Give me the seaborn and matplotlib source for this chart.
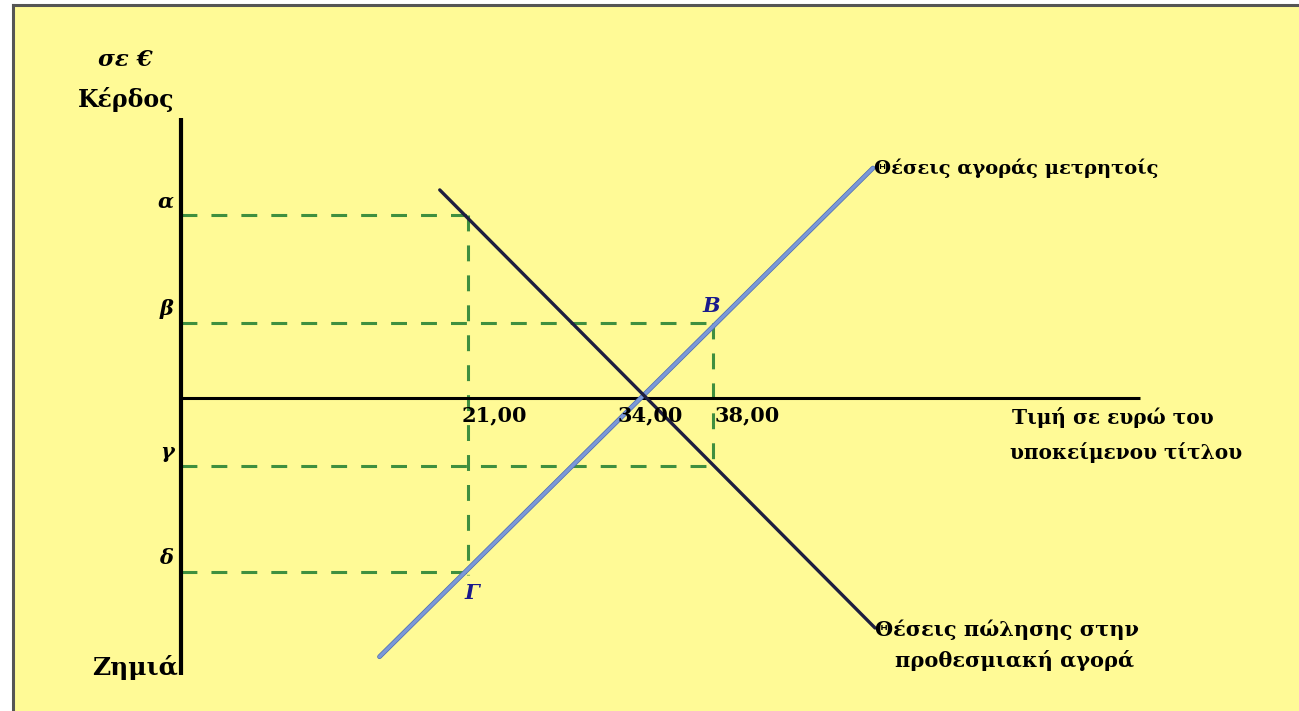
"""Profit/loss diagram: spot purchase vs forward sale (hedging)."""
import matplotlib
matplotlib.use("Agg")
import matplotlib.pyplot as plt
import matplotlib.patheffects as pe
import pandas as pd
import seaborn as sns

# --- data (diagram units: price on x, profit on y) ---
spot_price = [14.5, 50.55]
spot_profit = [-18.9, 16.8]
forward_price = [18.9, 50.7]
forward_profit = [15.2, -16.8]

profit_labels = ["α", "β", "γ", "δ"]
profit_levels = [13.37, 5.48, -4.97, -12.71]

price_labels = ["21,00", "34,00", "38,00"]
price_levels = [21.0, 34.0, 38.86]

# guide boxes: (price, upper profit, lower profit)
guide_price = [21.0, 38.86]
guide_top = [13.37, 5.48]
guide_bottom = [-12.71, -4.97]

axis_top, axis_bottom, axis_right = 20.45, -20.2, 70.05

# --- layout ---
PX = 13.69          # pixels per diagram unit
X0, Y0 = 181, 398   # pixel position of the origin
W, H = 1299, 711

sns.set_theme(style="white")
plt.rcParams["font.family"] = ["DejaVu Serif"]
plt.rcParams["font.weight"] = "bold"
plt.rcParams["text.color"] = "black"

fig = plt.figure(figsize=(W / 100, H / 100), dpi=100, facecolor="white")
ax = fig.add_axes([13 / W, 0, 1 - 13 / W, 1 - 5 / H])
ax.set_facecolor("#fffa96")
ax.set_xlim((13 - X0) / PX, (W - X0) / PX)
ax.set_ylim((Y0 - H) / PX, (Y0 - 5) / PX)
for side in ["right", "bottom"]:
    ax.spines[side].set_visible(False)
for side in ["top", "left"]:
    ax.spines[side].set_color("#555555")
    ax.spines[side].set_linewidth(2.2)
ax.set_xticks([])
ax.set_yticks([])

green = "#3f8f3f"
dash = dict(color=green, lw=2.2, dashes=(5.2, 4.6), solid_capstyle="butt")

# dashed guides
for gx, gt, gb in zip(guide_price, guide_top, guide_bottom):
    over = 0.7 if gx < 30 else 0.0
    ax.plot([0, gx + over], [gt, gt], **dash)
    ax.plot([0, gx + over], [gb, gb], **dash)
    ax.plot([gx, gx], [gt, gb - 0.2], **dash)

# axes
ax.plot([0, 0], [axis_top, axis_bottom], color="black", lw=3.0, solid_capstyle="butt")
ax.plot([0, axis_right], [0, 0], color="black", lw=2.2, solid_capstyle="butt")

# position lines
df = pd.DataFrame({
    "price": spot_price + forward_price,
    "profit": spot_profit + forward_profit,
    "position": ["spot"] * 2 + ["forward"] * 2,
})
sns.lineplot(data=df, x="price", y="profit", hue="position", sort=False,
             palette={"spot": "#7a98d8", "forward": "#1e1e40"},
             linewidth=2.4, legend=False, ax=ax)
ax.lines[-2].set_path_effects([pe.Stroke(linewidth=3.4, foreground="#4d6cb0"), pe.Normal()])

fs = 15
# y axis labels
ax.text(-4.09, 24.69, "σε €", fontsize=16.5, style="italic", ha="center", va="center")
ax.text(-4.02, 21.77, "Κέρδος", fontsize=17, ha="center", va="center")
ax.text(-0.22, -19.72, "Ζημιά", fontsize=18, ha="right", va="center")
for lab, lev in zip(profit_labels, profit_levels):
    ax.text(-0.55, lev + 1.0, lab, fontsize=fs, style="italic", ha="right", va="center")

# price labels
for lab, off in zip(price_labels, [-0.5, -2.1, 0.15]):
    ax.text(price_levels[price_labels.index(lab)] + off, -1.3, lab,
            fontsize=fs, ha="left", va="center")

ax.text(38.71, 6.72, "Β", fontsize=fs, style="italic", color="#1a1a8c", ha="center", va="center")
ax.text(21.26, -14.24, "Γ", fontsize=fs, style="italic", color="#1a1a8c", ha="center", va="center")

ax.text(spot_price[-1] + 0.1, spot_profit[-1], "Θέσεις αγοράς μετρητοίς",
        fontsize=14, ha="left", va="center")
ax.text(forward_price[-1], forward_profit[-1] - 0.15, "Θέσεις πώλησης στην",
        fontsize=fs, ha="left", va="center")
ax.text(52.15, -19.14, "προθεσμιακή αγορά", fontsize=fs, ha="left", va="center")
ax.text(60.7, -1.46, "Τιμή σε ευρώ του", fontsize=14.5, ha="left", va="center")
ax.text(60.55, -4.02, "υποκείμενου τίτλου", fontsize=14.5, ha="left", va="center")

fig.savefig("out.png", dpi=100, facecolor=fig.get_facecolor())
plt.close(fig)
